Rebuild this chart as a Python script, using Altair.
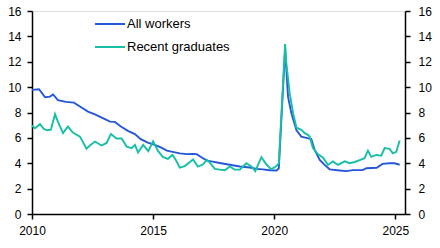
import altair as alt
import pandas as pd

# All workers unemployment rate (%)
aw_year = [2010.00, 2010.29, 2010.54, 2010.74, 2010.87, 2011.07, 2011.40, 2011.73, 2011.98,
           2012.31, 2012.60, 2013.01, 2013.22, 2013.42, 2013.67, 2013.96, 2014.25, 2014.49,
           2014.78, 2015.07, 2015.32, 2015.57, 2015.81, 2016.10, 2016.39, 2016.64, 2016.80,
           2016.93, 2017.22, 2017.46, 2017.75, 2018.16, 2018.58, 2018.99, 2019.28, 2019.53,
           2019.81, 2020.10, 2020.19, 2020.45, 2020.57, 2020.71, 2020.92, 2021.12, 2021.33,
           2021.53, 2021.67, 2021.88, 2022.08, 2022.29, 2022.70, 2022.98, 2023.24, 2023.65,
           2023.81, 2024.23, 2024.47, 2024.76, 2024.97, 2025.18]
aw_val = [9.78, 9.83, 9.20, 9.25, 9.42, 8.97, 8.84, 8.78, 8.47,
          8.07, 7.85, 7.47, 7.28, 7.26, 6.90, 6.55, 6.30, 5.90,
          5.62, 5.45, 5.25, 5.00, 4.90, 4.78, 4.72, 4.74, 4.72,
          4.55, 4.21, 4.13, 4.02, 3.88, 3.74, 3.66, 3.56, 3.52,
          3.45, 3.43, 3.60, 13.00, 9.25, 7.94, 6.60, 6.10, 6.00,
          5.90, 5.05, 4.27, 3.87, 3.52, 3.43, 3.38, 3.46, 3.46,
          3.61, 3.64, 3.95, 4.00, 4.00, 3.88]

# Recent graduates unemployment rate (%)
rg_year = [2010.00, 2010.12, 2010.33, 2010.49, 2010.62, 2010.78, 2010.95, 2011.07, 2011.28,
           2011.48, 2011.69, 2011.98, 2012.25, 2012.39, 2012.60, 2012.87, 2013.08, 2013.26,
           2013.49, 2013.70, 2013.91, 2014.11, 2014.25, 2014.38, 2014.59, 2014.80, 2015.00,
           2015.21, 2015.40, 2015.61, 2015.80, 2015.94, 2016.10, 2016.31, 2016.52, 2016.65,
           2016.85, 2017.05, 2017.22, 2017.34, 2017.55, 2017.75, 2017.96, 2018.16, 2018.37,
           2018.58, 2018.85, 2019.06, 2019.22, 2019.47, 2019.68, 2019.88, 2020.09, 2020.19,
           2020.45, 2020.50, 2020.64, 2020.78, 2020.92, 2021.12, 2021.26, 2021.39, 2021.46,
           2021.60, 2021.81, 2022.01, 2022.22, 2022.42, 2022.63, 2022.91, 2023.11, 2023.32,
           2023.53, 2023.73, 2023.87, 2024.01, 2024.21, 2024.42, 2024.56, 2024.76, 2024.90,
           2025.04, 2025.18]
rg_val = [6.97, 6.76, 7.08, 6.70, 6.60, 6.65, 7.87, 7.28, 6.37,
          6.89, 6.42, 6.10, 5.15, 5.40, 5.71, 5.40, 5.60, 6.31,
          5.95, 5.95, 5.31, 5.19, 5.45, 4.85, 5.45, 4.95, 5.72,
          4.95, 4.50, 4.35, 4.65, 4.25, 3.65, 3.78, 4.10, 4.30,
          3.74, 3.90, 4.27, 4.05, 3.55, 3.50, 3.45, 3.74, 3.50,
          3.50, 4.00, 3.75, 3.38, 4.48, 3.90, 3.52, 3.78, 4.00,
          13.40, 11.90, 9.50, 7.94, 6.80, 6.63, 6.37, 6.24, 6.10,
          5.20, 4.70, 4.45, 3.87, 4.15, 3.87, 4.15, 4.00, 4.10,
          4.25, 4.40, 5.00, 4.50, 4.66, 4.60, 5.20, 5.13, 4.78,
          4.90, 5.79]

series_names = ["All workers", "Recent graduates"]
series_colors = ["#2457d9", "#16bfa6"]
x_ticks = [2010, 2015, 2020, 2025]
y_ticks = [0, 2, 4, 6, 8, 10, 12, 14, 16]

df = pd.concat([
    pd.DataFrame({"year": aw_year, "value": aw_val, "series": series_names[0]}),
    pd.DataFrame({"year": rg_year, "value": rg_val, "series": series_names[1]}),
])

FONT = "Liberation Sans"

x = alt.X("year:Q",
          scale=alt.Scale(domain=[2010, 2025.4], nice=False, zero=False),
          axis=alt.Axis(values=x_ticks, format="d", title=None, grid=False,
                        labelFlush=False,
                        domainColor="black", tickColor="black", tickSize=5,
                        labelPadding=6, labelColor="black", labelFontSize=12,
                        labelFont=FONT, domainWidth=1.5, tickWidth=1.5))

yscale = alt.Scale(domain=[0, 16], nice=False)

def yaxis(orient, pad):
    return alt.Axis(values=y_ticks, title=None, grid=False, orient=orient,
                    labelFlush=False,
                    domainColor="black", tickColor="black", tickSize=5,
                    labelPadding=pad, labelColor="black", labelFontSize=12,
                    labelFont=FONT, domainWidth=1.5, tickWidth=1.5)

color = alt.Color("series:N",
                  scale=alt.Scale(domain=series_names, range=series_colors),
                  legend=alt.Legend(title=None, orient="none", legendX=62, legendY=-3,
                                    symbolType="stroke", symbolSize=900,
                                    symbolStrokeWidth=2, labelFontSize=13,
                                    labelFont=FONT, labelColor="black",
                                    rowPadding=-6, labelOffset=1))

lines = alt.Chart(df).mark_line(strokeWidth=1.9).encode(
    x=x,
    y=alt.Y("value:Q", scale=yscale, axis=yaxis("left", 6)),
    color=color,
    order="year:Q",
)

right = alt.Chart(df).mark_line(opacity=0).encode(
    x=x,
    y=alt.Y("value:Q", scale=yscale, axis=yaxis("right", 8)),
    detail="series:N",
)

chart = alt.layer(lines, right).resolve_scale(y="independent").properties(
    width=373, height=203,
    padding={"left": 32, "top": 11, "right": 35, "bottom": 34},
    autosize=alt.AutoSizeParams(type="none"),
).configure_view(stroke=None).configure(background="white")

chart.save("out.html", embed_options={"renderer": "svg", "actions": False})
